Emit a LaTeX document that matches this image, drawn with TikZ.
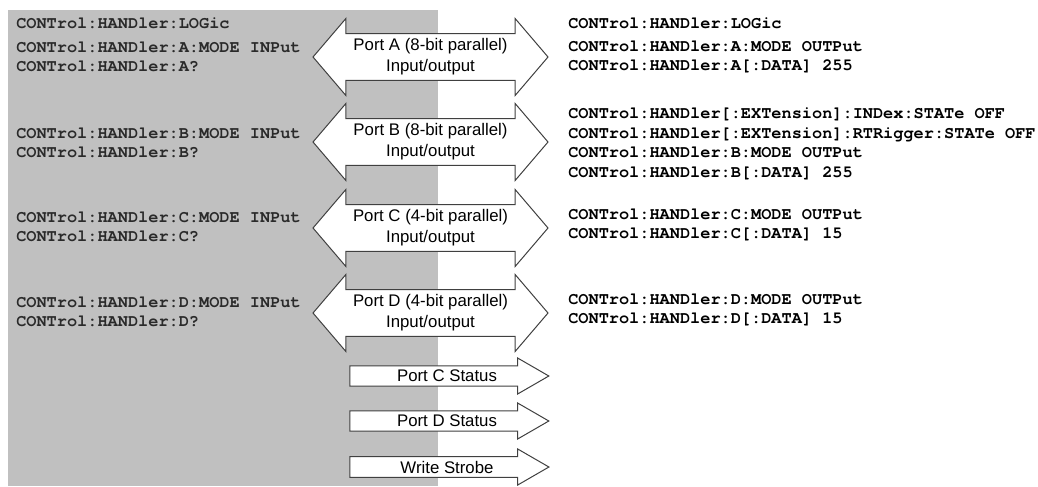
\documentclass[tikz,border=0pt]{standalone}
\usepackage{fontspec}
\setsansfont{Liberation Sans}
\newfontfamily\cmdfont{texgyrecursor}[Extension=.otf,UprightFont=*-regular,BoldFont=*-bold]
\usepackage{tikz}
\usetikzlibrary{shapes.arrows}
\definecolor{panelgray}{HTML}{C0C0C0}
\definecolor{arrowline}{HTML}{404040}
\definecolor{cmdleft}{HTML}{2A2A2A}

\begin{document}
\begin{tikzpicture}[
  x=0.75pt, y=-0.75pt,
  cmd/.style={
    font=\cmdfont\bfseries\fontsize{12.7}{14.6}\selectfont,
    anchor=west,
    align=left,
    inner sep=0pt
  },
  cmdin/.style={cmd, text=cmdleft},
  cmdout/.style={cmd, text=black},
  portio/.style={
    double arrow,
    draw=arrowline,
    fill=white,
    line width=0.75pt,
    double arrow tip angle=99,
    double arrow head extend=10.5pt,
    minimum height=176.25pt,
    minimum width=57.75pt,
    inner xsep=0pt,
    inner ysep=2pt,
    align=center,
    font=\sffamily\fontsize{12.6}{15.75}\selectfont
  },
  statline/.style={
    single arrow,
    draw=arrowline,
    fill=white,
    line width=0.75pt,
    single arrow tip angle=60,
    single arrow head extend=5.25pt,
    minimum height=149.25pt,
    minimum width=27pt,
    inner xsep=0pt,
    inner ysep=2pt,
    font=\sffamily\fontsize{12.6}{15.75}\selectfont
  }
]
\useasboundingbox (0,0) rectangle (1038,486);
\fill[panelgray] (8,10) rectangle (438,486);

% instrument side
\node[cmdin] (logicin) at (16,23) {CONTrol:HANDler:LOGic};
\node[cmdin] (ain) at (16,57) {CONTrol:HANDler:A:MODE INPut\\CONTrol:HANDler:A?};
\node[cmdin] (bin) at (16,143) {CONTrol:HANDler:B:MODE INPut\\CONTrol:HANDler:B?};
\node[cmdin] (cin) at (16,227) {CONTrol:HANDler:C:MODE INPut\\CONTrol:HANDler:C?};
\node[cmdin] (din) at (16,312) {CONTrol:HANDler:D:MODE INPut\\CONTrol:HANDler:D?};

% ports
\node[portio] (porta) at (430.5,57) {Port A (8-bit parallel)\\Input/output};
\node[portio] (portb) at (430.5,142) {Port B (8-bit parallel)\\Input/output};
\node[portio] (portc) at (430.5,228) {Port C (4-bit parallel)\\Input/output};
\node[portio] (portd) at (430.5,313) {Port D (4-bit parallel)\\Input/output};

\node[statline] (cstat) at (440.5,376) {\hspace*{9.75pt}Port C Status};
\node[statline] (dstat) at (440.5,421) {\hspace*{9.75pt}Port D Status};
\node[statline] (strobe) at (440.5,467) {\hspace*{9.75pt}Write Strobe};

% handler side
\node[cmdout] (logicout) at (568,23) {CONTrol:HANDler:LOGic};
\node[cmdout] (aout) at (568,57) {CONTrol:HANDler:A:MODE OUTPut\\CONTrol:HANDler:A[:DATA] 255};
\node[cmdout] (bout) at (568,144) {CONTrol:HANDler[:EXTension]:INDex:STATe OFF\\CONTrol:HANDler[:EXTension]:RTRigger:STATe OFF\\CONTrol:HANDler:B:MODE OUTPut\\CONTrol:HANDler:B[:DATA] 255};
\node[cmdout] (cout) at (568,225) {CONTrol:HANDler:C:MODE OUTPut\\CONTrol:HANDler:C[:DATA] 15};
\node[cmdout] (dout) at (568,310) {CONTrol:HANDler:D:MODE OUTPut\\CONTrol:HANDler:D[:DATA] 15};
\end{tikzpicture}
\end{document}
